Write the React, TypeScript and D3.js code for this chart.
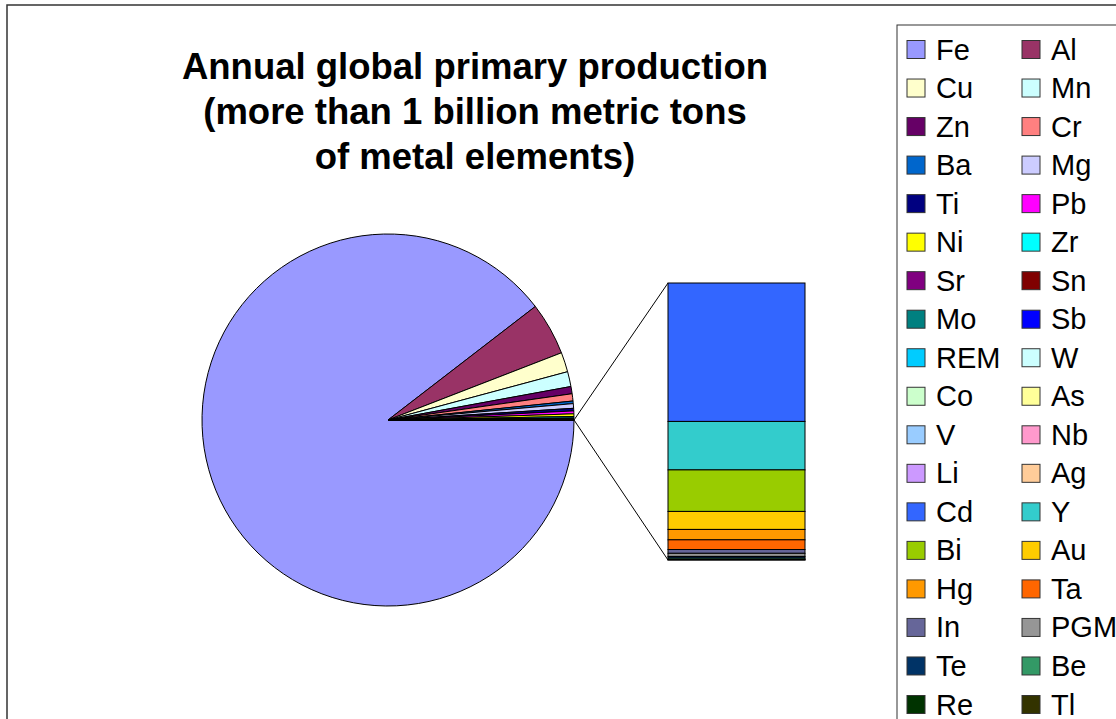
import { arc, pie, scaleLinear, scaleOrdinal, sum, cumsum } from "d3";

// elements drawn in the pie (kt per year)
const pieElements = ["Fe", "Al", "Cu", "Mn", "Zn", "Cr", "Ba", "Mg", "Ti", "Pb", "Ni", "Zr",
  "Sr", "Sn", "Mo", "Sb", "REM", "W", "Co", "As", "V", "Nb", "Li", "Ag"];
const pieValues = [1000000, 51000, 19000, 14500, 7000, 7000, 2500, 4500, 2500, 2800, 2500, 1400,
  600, 350, 250, 200, 150, 90, 80, 60, 70, 70, 25, 21];

// the small ones, split out into the bar (kt per year)
const barElements = ["Cd", "Y", "Bi", "Au", "Hg", "Ta", "In", "PGM", "Te", "Be", "Re", "Tl"];
const barValues = [20, 7, 6, 2.6, 1.5, 1.4, 0.55, 0.45, 0.25, 0.2, 0.05, 0.015];

const titleLines = [
  "Annual global primary production",
  "(more than 1 billion metric tons",
  "of metal elements)",
];

// Excel 2003 chart palette
const palette = [
  "#9999FF", "#993366", "#FFFFCC", "#CCFFFF", "#660066", "#FF8080", "#0066CC", "#CCCCFF",
  "#000080", "#FF00FF", "#FFFF00", "#00FFFF", "#800080", "#800000", "#008080", "#0000FF",
  "#00CCFF", "#CCFFFF", "#CCFFCC", "#FFFF99", "#99CCFF", "#FF99CC", "#CC99FF", "#FFCC99",
  "#3366FF", "#33CCCC", "#99CC00", "#FFCC00", "#FF9900", "#FF6600", "#666699", "#969696",
  "#003366", "#339966", "#003300", "#333300",
];

const W = 1116;
const H = 719;
const FONT = "'Liberation Sans', Arial, sans-serif";

export default function App() {
  const allElements = [...pieElements, ...barElements];
  const color = scaleOrdinal<string, string>().domain(allElements).range(palette);

  // pie with the "other" slice (sum of the bar) centred at 3 o'clock
  const otherTotal = sum(barValues);
  const pieData = [...pieValues, otherTotal];
  const total = sum(pieData);
  const otherAngle = (otherTotal / total) * 2 * Math.PI;
  const start = Math.PI / 2 + otherAngle / 2;
  const arcs = pie<number>().sort(null).startAngle(start).endAngle(start + 2 * Math.PI)(pieData);

  const cx = 388;
  const cy = 420;
  const r = 186;
  const arcGen = arc<any>().innerRadius(0).outerRadius(r);

  // stacked bar
  const barX = 668;
  const barW = 137;
  const y = scaleLinear().domain([0, otherTotal]).range([283, 560]);
  const ends = Array.from(cumsum(barValues));

  const otherArc = arcs[arcs.length - 1];
  const pt = (a: number) => [cx + r * Math.sin(a), cy - r * Math.cos(a)];
  const [ux, uy] = pt(otherArc.endAngle);
  const [lx, ly] = pt(otherArc.startAngle);

  // legend, two columns
  const legendRows = Math.ceil(allElements.length / 2);
  const rowY = scaleLinear().domain([0, legendRows - 1]).range([49.5, 704.5]);

  return (
    <svg width={W} height={H} style={{ position: "absolute", left: 0, top: 0, background: "#fff" }}
      fontFamily={FONT}>
      <rect x={7} y={5} width={W + 10} height={H + 10} fill="#fff" stroke="#333" strokeWidth={1.5} />

      <g textAnchor="middle" fontWeight="bold" fontSize={36.5} fill="#000">
        {titleLines.map((t, i) => (
          <text key={t} x={475} y={79 + i * 45}>{t}</text>
        ))}
      </g>

      <g transform={`translate(${cx},${cy})`}>
        {arcs.map((a, i) => (
          <path key={i} d={arcGen(a) ?? ""}
            fill={i < pieElements.length ? color(pieElements[i]) : "#fff"}
            stroke="#000" strokeWidth={1} strokeLinejoin="round" />
        ))}
      </g>

      <line x1={ux} y1={uy} x2={barX} y2={y(0)} stroke="#000" strokeWidth={1} />
      <line x1={lx} y1={ly} x2={barX} y2={y(otherTotal)} stroke="#000" strokeWidth={1} />

      <g>
        {barValues.map((v, i) => (
          <rect key={barElements[i]} x={barX} y={y(ends[i] - v)} width={barW}
            height={y(ends[i]) - y(ends[i] - v)} fill={color(barElements[i])}
            stroke="#000" strokeWidth={1} />
        ))}
      </g>

      <rect x={897} y={25} width={W} height={H} fill="#fff" stroke="#333" strokeWidth={1} />
      <g fontSize={29} fill="#000">
        {allElements.map((name, i) => {
          const col = i % 2;
          const row = Math.floor(i / 2);
          const sx = col === 0 ? 907 : 1022;
          const cyRow = rowY(row);
          return (
            <g key={name}>
              <rect x={sx} y={cyRow - 9} width={18} height={18} fill={color(name)} stroke="#333" strokeWidth={1} />
              <text x={sx + 29} y={cyRow + 10}>{name}</text>
            </g>
          );
        })}
      </g>
    </svg>
  );
}
